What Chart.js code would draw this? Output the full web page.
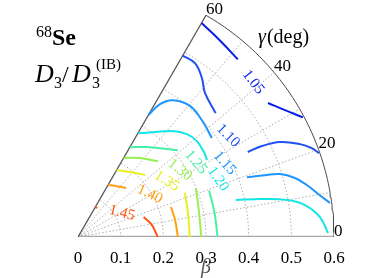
<!DOCTYPE html>
<html>
<head>
<meta charset="utf-8">
<script src="https://cdn.jsdelivr.net/npm/chart.js@4.4.1/dist/chart.umd.min.js"></script>
<style>
  html, body { margin: 0; padding: 0; background: #fff; }
  #wrap { width: 382px; height: 278px; position: relative; }
</style>
</head>
<body>
<div id="wrap"><canvas id="sectorChart"></canvas></div>
<script>
const levels = ['1.05', '1.10', '1.15', '1.20', '1.25', '1.30', '1.35', '1.40', '1.45'];
const levelColors = ['#0a1ee6', '#1e50f0', '#1e96ff', '#14e6e6', '#46f0a5', '#96f050', '#e6f01e', '#ffa014', '#ff5514'];

// contour pieces per level, points are [beta, gamma in deg]
const c105 = [[[0.579, 60], [0.568, 54], [0.560, 48]],
              [[0.545, 35.2], [0.569, 31.5], [0.597, 28]]];
const c110 = [[[0.491, 60], [0.491, 56], [0.472, 52], [0.450, 48.6], [0.434, 42]],
              [[0.445, 26.6], [0.481, 26.3], [0.523, 25.2], [0.564, 22.7], [0.586, 20.8], [0.598, 19.2]]];
const c115 = [[[0.330, 60], [0.366, 58.3], [0.390, 55.3], [0.404, 49.5], [0.398, 42.6], [0.390, 36.5]],
              [[0.420, 19.5], [0.461, 18.3], [0.496, 17.3], [0.527, 15.2], [0.550, 12.8], [0.575, 9.8], [0.596, 7.7]]];
const c120 = [[[0.281, 60], [0.305, 53.7], [0.332, 48.4], [0.351, 43.4], [0.358, 38.9], [0.356, 34], [0.352, 30.8]],
              [[0.380, 13.2], [0.440, 11.7], [0.499, 10.0], [0.537, 8.0], [0.569, 4.7], [0.586, 0.9]]];
const c125 = [[[0.243, 60], [0.263, 53.3], [0.283, 47.3], [0.310, 41]],
              [[0.326, 19.5], [0.325, 10], [0.327, 0]]];
const c130 = [[[0.214, 60], [0.235, 51.9], [0.258, 43.5]],
              [[0.299, 22.5], [0.290, 12.6], [0.289, 0]]];
const c135 = [[[0.181, 60], [0.195, 51.3], [0.214, 42.8]],
              [[0.271, 22.4], [0.264, 12.8], [0.262, 0]]];
const c140 = [[[0.141, 60], [0.150, 52.6], [0.161, 45.6]],
              [[0.229, 17.9], [0.231, 9.9], [0.234, 0]]];
const c145 = [[[0.081, 60], [0.082, 56.5]],
              [[0.161, 17], [0.175, 9.5], [0.187, 0]]];
const contours = [c105, c110, c115, c120, c125, c130, c135, c140, c145];

// inline contour labels
const labelBeta = [0.548, 0.424, 0.385, 0.355, 0.327, 0.286, 0.246, 0.196, 0.117];
const labelGamma = [41.5, 34, 26.7, 22.5, 32.4, 33.3, 32.2, 30.8, 28.6];
const labelAngle = [52, 45, 48, 55, 50, 38, 32, 25, 15];

const betaTicks = ['0', '0.1', '0.2', '0.3', '0.4', '0.5', '0.6'];
const gammaTicks = ['0', '20', '40', '60'];
const gridBeta = [0.1, 0.2, 0.3, 0.4, 0.5];
const gridGamma = [10, 20, 30, 40, 50];
const betaMax = 0.6;

function toXY(b, g) {
    const r = g * Math.PI / 180;
    return { x: b * Math.cos(r), y: b * Math.sin(r) };
}

function arc(b) {
    const pts = [];
    for (let g = 0; g <= 60; g += 1) pts.push(toXY(b, g));
    return pts;
}

const datasets = [];

contours.forEach((pieces, i) => {
    pieces.forEach(piece => {
        datasets.push({
            data: piece.map(p => toXY(p[0], p[1])),
            borderColor: levelColors[i],
            borderWidth: 2,
            tension: 0.4,
            order: 1
        });
    });
});

gridBeta.forEach(b => {
    datasets.push({ data: arc(b), borderColor: '#9a9a9a', borderWidth: 0.8, borderDash: [1.5, 2], order: 3 });
});
gridGamma.forEach(g => {
    datasets.push({ data: [toXY(0, g), toXY(betaMax, g)], borderColor: '#9a9a9a', borderWidth: 0.8, borderDash: [1.5, 2], order: 3 });
});

// frame: outer arc, gamma=60 edge, gamma=0 axis
datasets.push({ data: arc(betaMax), borderColor: '#4a4a4a', borderWidth: 1, order: 2 });
datasets.push({ data: [toXY(0, 60), toXY(betaMax, 60)], borderColor: '#555', borderWidth: 1.3, order: 2 });
datasets.push({ data: [toXY(0, 0), toXY(betaMax, 0)], borderColor: '#a8a8a8', borderWidth: 2.5, order: 2 });

const serif = '"Liberation Serif", "DejaVu Serif", serif';

const textPlugin = {
    id: 'sectorText',
    afterDatasetsDraw(chart) {
        const ctx = chart.ctx;
        const xs = chart.scales.x;
        const ys = chart.scales.y;
        const px = (b, g) => {
            const p = toXY(b, g);
            return [xs.getPixelForValue(p.x), ys.getPixelForValue(p.y)];
        };
        ctx.save();

        // contour labels
        ctx.font = '15px ' + serif;
        ctx.textAlign = 'center';
        ctx.textBaseline = 'middle';
        levels.forEach((lv, i) => {
            const [x, y] = px(labelBeta[i], labelGamma[i]);
            ctx.save();
            ctx.translate(x, y);
            ctx.rotate(labelAngle[i] * Math.PI / 180);
            ctx.fillStyle = levelColors[i];
            ctx.fillText(lv, 0, 0);
            ctx.restore();
        });

        // gamma ticks on the outer arc
        ctx.fillStyle = '#000';
        ctx.font = '17px ' + serif;
        ctx.textAlign = 'left';
        ctx.textBaseline = 'alphabetic';
        gammaTicks.forEach(t => {
            const [x, y] = px(betaMax, Number(t));
            ctx.fillText(t, x, y - 1);
        });

        ctx.font = 'italic 20px ' + serif;
        ctx.fillText('\u03b3', 258, 43);
        const gw = ctx.measureText('\u03b3').width;
        ctx.font = '20px ' + serif;
        ctx.fillText('(deg)', 258 + gw + 1, 43);

        // nucleus and quantity
        ctx.font = '16px ' + serif;
        ctx.fillText('68', 36, 37);
        ctx.font = 'bold 24px ' + serif;
        ctx.fillText('Se', 52, 45);

        ctx.font = 'italic 26px ' + serif;
        ctx.fillText('D', 35, 82);
        ctx.font = '16px ' + serif;
        ctx.fillText('3', 54, 88);
        ctx.font = '24px ' + serif;
        ctx.fillText('/', 62, 82);
        ctx.font = 'italic 26px ' + serif;
        ctx.fillText('D', 72, 82);
        ctx.font = '16px ' + serif;
        ctx.fillText('3', 92, 88);
        ctx.font = '15px ' + serif;
        ctx.fillText('(IB)', 96, 69);

        ctx.restore();
    }
};

const ctx = document.getElementById('sectorChart');
new Chart(ctx, {
    type: 'scatter',
    data: { datasets: datasets },
    options: {
        responsive: true,
        maintainAspectRatio: false,
        animation: false,
        showLine: true,
        elements: { point: { radius: 0 } },
        layout: { padding: { left: 78, right: 48, top: 237 - 0.55 * 256 / 0.6, bottom: 0 } },
        plugins: { legend: { display: false }, tooltip: { enabled: false } },
        scales: {
            x: {
                type: 'linear',
                min: 0,
                max: betaMax,
                afterFit: scale => { scale.height = 41; },
                grid: { display: false },
                border: { display: false },
                ticks: {
                    stepSize: 0.1,
                    padding: 3,
                    color: '#000',
                    font: { family: serif, size: 17 },
                    maxRotation: 0,
                    callback: (v, i) => betaTicks[i]
                },
                title: {
                    display: true,
                    text: '\u03b2',
                    color: '#555',
                    font: { family: serif, size: 20, style: 'italic', lineHeight: 1 },
                    padding: { top: 0, bottom: 0 }
                }
            },
            y: {
                display: false,
                min: 0,
                max: 0.55
            }
        }
    },
    plugins: [textPlugin]
});
</script>
</body>
</html>
